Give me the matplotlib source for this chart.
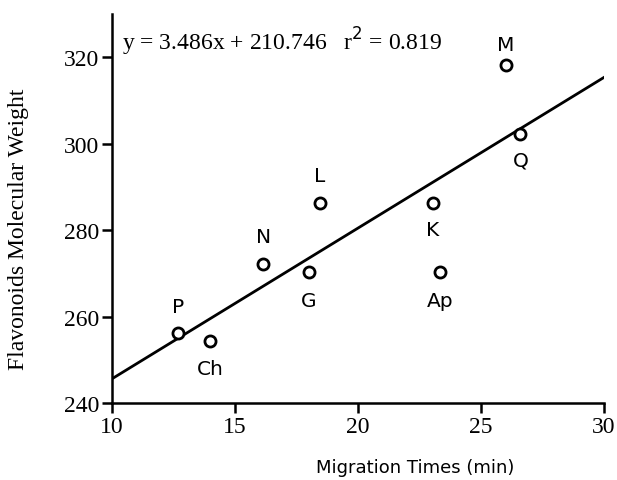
import matplotlib
matplotlib.use("Agg")
import matplotlib.pyplot as plt
import numpy as np

# migration time (min) and molecular weight of each flavonoid
names = ["P", "Ch", "N", "G", "L", "K", "Ap", "M", "Q"]
mig_time = [12.7, 14.0, 16.15, 18.0, 18.45, 23.05, 23.35, 26.0, 26.6]
mol_wt = [256.25, 254.24, 272.25, 270.24, 286.24, 286.24, 270.24, 318.24, 302.24]
# label offsets in data units (dx, dy)
lab_dx = [0.0, 0.0, 0.0, 0.0, 0.0, 0.0, 0.0, 0.0, 0.0]
lab_dy = [6.0, -6.3, 6.3, -6.5, 6.5, -6.0, -6.5, 4.8, -6.0]

slope, intercept = 3.486, 210.746
fit_x = [10, 30]

fig = plt.figure(figsize=(6.17, 4.81), dpi=100)
ax = fig.add_axes([0.1815, 0.160, 0.7975, 0.809])

ax.plot(fit_x, [slope * x + intercept for x in fit_x], color="black", lw=2)
ax.plot(mig_time, mol_wt, "o", ms=8, mfc="white", mec="black", mew=2, zorder=3)

for n, x, y, dx, dy in zip(names, mig_time, mol_wt, lab_dx, lab_dy):
    ax.text(x + dx, y + dy, n, ha="center", va="center", fontsize=14.5,
            family="DejaVu Sans")

ax.text(10.4, 323.8, "y = 3.486x + 210.746   r$^2$ = 0.819", fontsize=17,
        family="Liberation Serif", va="center", ha="left")

ax.set_xlim(10, 30)
ax.set_ylim(240, 330)
ax.set_xticks([10, 15, 20, 25, 30])
ax.set_yticks([240, 260, 280, 300, 320])
for s in ["top", "right"]:
    ax.spines[s].set_visible(False)
for s in ["left", "bottom"]:
    ax.spines[s].set_linewidth(1.8)
ax.tick_params(direction="out", length=7, width=1.8, labelsize=17, pad=2)
for lab in ax.get_xticklabels() + ax.get_yticklabels():
    lab.set_family("Liberation Serif")

ax.set_ylabel("Flavonoids Molecular Weight", family="Liberation Serif",
              fontsize=17, va="center")
ax.yaxis.set_label_coords(-0.19, 0.45)
fig.text(0.673, 0.026, "Migration Times (min)", family="DejaVu Sans",
         fontsize=13, ha="center", va="center")

fig.savefig("out.png", dpi=100)
